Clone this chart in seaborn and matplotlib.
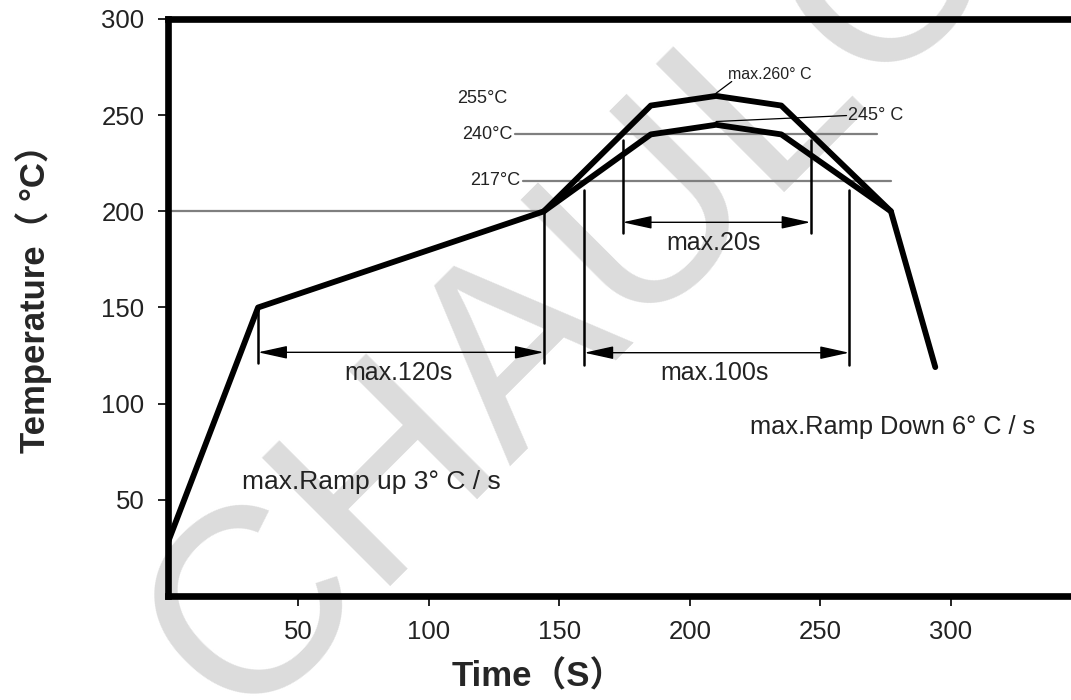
import numpy as np
import pandas as pd
import matplotlib
matplotlib.use("Agg")
import matplotlib.pyplot as plt
import seaborn as sns

# ------------------------------------------
# Data
# ------------------------------------------

time_upper = [0, 34.5, 144, 185, 210, 235, 277, 294]
temp_upper = [28, 150, 200, 255, 260, 255, 200, 119]

time_lower = [144, 185, 210, 235, 277]
temp_lower = [200, 240, 245, 240, 200]

# grey reference levels: level, x start, x end
ref_levels = [200, 240, 216]
ref_start = [0, 133, 136]
ref_end = [144, 271.5, 277]
ref_labels = ["", "240°C", "217°C"]

# vertical marker lines: x, y bottom, y top
mark_x = [34.5, 144, 159.5, 261, 174.2, 246.2]
mark_lo = [121, 121, 120, 120, 188.6, 188.6]
mark_hi = [150, 200, 211, 211, 237, 237]

# double arrows: x start, x end, y, label, label y
span_x0 = [34.5, 159.5, 174.2]
span_x1 = [144, 261, 246.2]
span_y = [126.7, 126.5, 194.3]
span_labels = ["max.120s", "max.100s", "max.20s"]
span_label_y = [115.8, 115.8, 183.4]

x_ticks = [50, 100, 150, 200, 250, 300]
y_ticks = [50, 100, 150, 200, 250, 300]

# ------------------------------------------
# Plot
# ------------------------------------------

sns.set_theme(style="white")
plt.rcParams['font.family'] = ['Liberation Sans', 'Noto Sans CJK SC', 'DejaVu Sans']

fig = plt.figure(figsize=(10.71, 7.0), dpi=100)
ax = fig.add_axes([168 / 1071, 1 - 596 / 700, 1 - 168 / 1071, (596 - 19) / 700])

# watermark, behind everything else
ax.text(0.535, 0.58, "CHAULC", fontsize=190, color="#dcdcdc",
        rotation=45, ha="center", va="center", zorder=0.2,
        transform=fig.transFigure, clip_on=False,
        family=['Liberation Sans Narrow', 'Liberation Sans'])

for lvl, x0, x1, lab in zip(ref_levels, ref_start, ref_end, ref_labels):
    ax.plot([x0, x1], [lvl, lvl], color="#7f7f7f", lw=1.6, zorder=2)
    if lab:
        ax.text(x0 - 1, lvl, lab, fontsize=13, ha="right", va="center", color="#222222")

ax.text(110.6, 258.8, "255°C", fontsize=13, ha="left", va="center", color="#222222")

sns.lineplot(x=time_upper, y=temp_upper, ax=ax, color="black", lw=4.2, sort=False, zorder=5)
sns.lineplot(x=time_lower, y=temp_lower, ax=ax, color="black", lw=4.2, sort=False, zorder=5)

for x, lo, hi in zip(mark_x, mark_lo, mark_hi):
    ax.plot([x, x], [lo, hi], color="black", lw=1.8, zorder=4)

for x0, x1, y, lab, ly in zip(span_x0, span_x1, span_y, span_labels, span_label_y):
    ax.annotate("", xy=(x1, y), xytext=(x0, y),
                arrowprops=dict(arrowstyle="<|-|>,head_length=1.0,head_width=0.22",
                                color="black", lw=1.0, mutation_scale=18,
                                shrinkA=0, shrinkB=0), zorder=4)
    ax.text((x0 + x1) / 2 - 1, ly, lab, fontsize=18, ha="center", va="center",
            color="#222222")

# peak labels with leader lines
ax.plot([210, 216], [261.4, 267.5], color="black", lw=0.9, zorder=4)
ax.text(214.7, 271.4, "max.260° C", fontsize=11.5, ha="left", va="center", color="#222222")
ax.plot([210, 260], [246.7, 249.8], color="black", lw=0.9, zorder=4)
ax.text(260.7, 249.8, "245° C", fontsize=13, ha="left", va="center", color="#222222")

ax.text(28.2, 59.4, "max.Ramp up 3° C / s", fontsize=19, ha="left", va="center",
        color="#222222")
ax.text(223, 87.9, "max.Ramp Down 6° C / s", fontsize=18.3, ha="left", va="center",
        color="#222222")

ax.set_xlim(0, 346)
ax.set_ylim(0, 300)
ax.set_xticks(x_ticks)
ax.set_yticks(y_ticks)
ax.tick_params(axis="both", direction="out", length=7, width=1.2, color="black",
               labelsize=18.5, labelcolor="#222222", pad=10, left=True, bottom=True)

for side in ["left", "top", "bottom"]:
    ax.spines[side].set_visible(True)
    ax.spines[side].set_color("black")
    ax.spines[side].set_linewidth(4.8)
ax.spines["right"].set_visible(False)

ax.set_xlabel("Time（S）", fontsize=25, fontweight="bold")
ax.set_ylabel("Temperature（ °C）", fontsize=25, fontweight="bold")
ax.xaxis.set_label_coords(0.41, -0.112)
ax.yaxis.set_label_coords(-0.128, 0.53)

plt.savefig("out.png", dpi=100)
